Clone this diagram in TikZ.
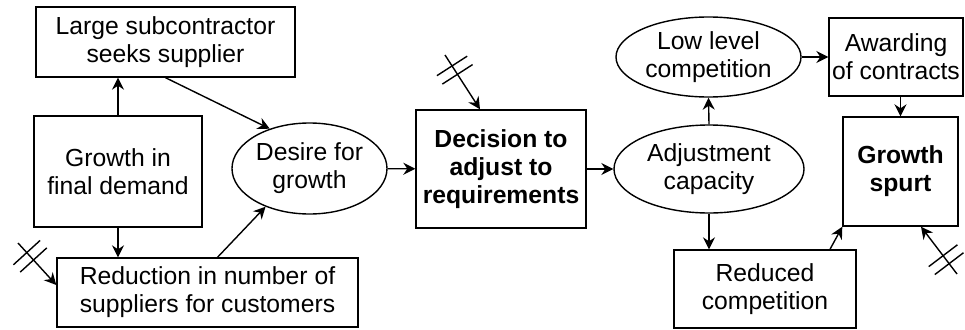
\documentclass[tikz,border=0pt]{standalone}
\usepackage{fontspec}
\setmainfont{Liberation Sans}
\usepackage{tikz}
\usetikzlibrary{arrows.meta,shapes.geometric,decorations.markings}
\tikzset{
  box/.style={rectangle, draw=black, line width=1.4pt, inner sep=0pt, align=center,
              font=\fontsize{24.7pt}{28pt}\selectfont},
  boxbold/.style={box, font=\fontsize{24.7pt}{28pt}\selectfont\bfseries},
  oval/.style={ellipse, draw=black, line width=1.4pt, inner sep=0pt, align=center,
               font=\fontsize{24.7pt}{28pt}\selectfont},
  arrow/.style={-{Stealth[length=12pt,width=12pt,inset=4pt]}, line width=1.4pt},
  delay/.style={arrow, postaction={decorate}, decoration={markings,
      mark=at position 13pt with {\draw[-] (0pt,-18pt) -- (0pt,18pt);},
      mark=at position 23pt with {\draw[-] (0pt,-18pt) -- (0pt,18pt);}}},
}
\begin{document}
\begin{tikzpicture}[x=1pt, y=-1pt]
\useasboundingbox (0,0) rectangle (965,329);
% left part
\node[box, minimum width=259pt, minimum height=70pt] (large) at (165.5,42) {Large subcontractor\\seeks supplier};
\node[box, minimum width=168pt, minimum height=111pt] (demand) at (118,171.5) {Growth in\\final demand};
\node[box, minimum width=301pt, minimum height=69pt] (reduction) at (207.5,292.5) {Reduction in number of\\suppliers for customers};
\node[oval, minimum width=155pt, minimum height=91pt] (desire) at (309.5,168.5) {Desire for\\growth};
% middle
\node[boxbold, minimum width=170pt, minimum height=118pt] (decision) at (501,169) {Decision to\\adjust to\\requirements};
\node[oval, minimum width=190pt, minimum height=88pt] (adjust) at (709,169) {Adjustment\\capacity};
% right part
\node[oval, minimum width=185pt, minimum height=80pt] (lowcomp) at (708.5,57) {Low level\\competition};
\node[box, minimum width=134pt, minimum height=78pt] (awarding) at (896,57) {Awarding\\of contracts};
\node[boxbold, minimum width=115pt, minimum height=109pt] (spurt) at (900.5,171.5) {Growth\\spurt};
\node[box, minimum width=182pt, minimum height=78pt] (reduced) at (765,289) {Reduced\\competition};
% free ends of the delayed arrows
\coordinate (d1) at (18,243);
\coordinate (d2) at (445,55);
\coordinate (d3) at (957,274);

\draw[arrow] (demand.north) -- (demand.north |- large.south);
\draw[arrow] (demand.south) -- (demand.south |- reduction.north);
\draw[arrow] (large.south) -- (desire.135);
\draw[arrow] ([xshift=10pt]reduction.north) -- (desire.221);
\draw[arrow] (desire) -- (decision);
\draw[arrow] (decision) -- (adjust);
\draw[arrow] (adjust.north) -- (lowcomp.south);
\draw[arrow] (adjust.south) -- (adjust.south |- reduced.north);
\draw[arrow] (lowcomp) -- (awarding);
\draw[arrow] (spurt.north |- awarding.south) -- (spurt.north);
\draw[arrow] ([xshift=65pt]reduced.north) -- (spurt.south west);
\draw[delay] (d1) -- ([yshift=7.5pt]reduction.west);
\draw[delay] (d2) -- ([xshift=-21pt]decision.north);
\draw[delay] (d3) -- ([xshift=20.5pt]spurt.south);
\end{tikzpicture}
\end{document}
